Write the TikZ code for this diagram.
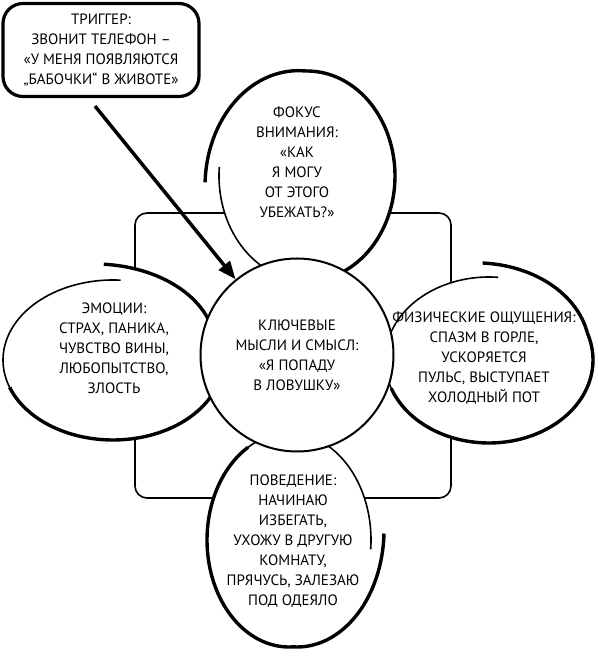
\documentclass[tikz,border=0pt]{standalone}
\usepackage{fontspec}
\setmainfont{PT Sans}
\usetikzlibrary{arrows.meta,
							calc,
							positioning,
							shapes.geometric}

% spiral bubble: cx, cy, rx, ry, start angle, growth span, end scale, thin span
\newcommand\spiral[8]{%
	\pgfmathsetmacro\spEnd{#5+368}%
	\pgfmathsetmacro\spGrow{#5+368-#6}%
	\pgfmathsetmacro\spThin{#5+#8}%
	\pgfmathsetmacro\spThinB{#5+#8+4}%
	\def\spX{#1+#3*(1+(#7-1)*max(0,\x-\spGrow)/#6)*cos(\x)}%
	\def\spY{#2+#4*(1+(#7-1)*max(0,\x-\spGrow)/#6)*sin(\x)}%
	\fill[white] plot[domain=#5:\spEnd, samples=150] ({\spX},{\spY}) -- cycle;
	\draw[line width=1.6pt] plot[domain=#5:\spThinB, samples=60] ({\spX},{\spY});
	\draw[line width=3.4pt] plot[domain=\spThin:\spEnd, samples=120] ({\spX},{\spY});
}

\begin{document}
\begin{tikzpicture}[x=1pt, y=1pt,
	bubbletext/.style = {align=center, inner sep=0pt,
									 font=\fontsize{15}{20}\selectfont},
		keybox/.style = {bubbletext, circle, draw, fill=white,
									 line width=2pt, minimum size=193pt},
	 trigbox/.style = {bubbletext, rectangle, draw, fill=white,
									 rounded corners=20pt, line width=3.2pt,
									 minimum width=196pt, minimum height=93pt},
 backframe/.style = {line width=1.6pt, rounded corners=12pt},
	 pointer/.style = {line width=3.5pt, -{Triangle[length=18pt, width=14pt]}}]

\useasboundingbox (0,0) rectangle (597,658);

\draw [backframe] (135,160) rectangle (451,445);

\spiral{307}{482}{88}{105}{175}{92}{1.16}{85}     % <-- focus
\spiral{113}{298}{110}{80}{86}{65}{1.2}{114}      % <-- emotions
\spiral{489}{298}{104}{83}{85}{74}{1.17}{115}     % <-- body
\spiral{289}{118}{82}{107}{-5}{90}{1.16}{125}     % <-- behaviour

\node (key) [keybox] at (297,303)
		{КЛЮЧЕВЫЕ\\ МЫСЛИ И СМЫСЛ:\\ «Я ПОПАДУ\\ В ЛОВУШКУ»};

\node (focus) [bubbletext] at (297,496)
		{ФОКУС\\ ВНИМАНИЯ:\\ «КАК\\ Я МОГУ\\ ОТ ЭТОГО\\ УБЕЖАТЬ?»};
\node (emotions) [bubbletext] at (114,310)
		{ЭМОЦИИ:\\ СТРАХ, ПАНИКА,\\ ЧУВСТВО ВИНЫ,\\ ЛЮБОПЫТСТВО,\\ ЗЛОСТЬ};
\node (body) [bubbletext] at (484,300)
		{ФИЗИЧЕСКИЕ ОЩУЩЕНИЯ:\\ СПАЗМ В ГОРЛЕ,\\ УСКОРЯЕТСЯ\\ ПУЛЬС, ВЫСТУПАЕТ\\ ХОЛОДНЫЙ ПОТ};
\node (behaviour) [bubbletext] at (293,117)
		{ПОВЕДЕНИЕ:\\ НАЧИНАЮ\\ ИЗБЕГАТЬ,\\ УХОЖУ В ДРУГУЮ\\ КОМНАТУ,\\ ПРЯЧУСЬ, ЗАЛЕЗАЮ\\ ПОД ОДЕЯЛО};

\node (trigger) [trigbox] at (101,608)
		{ТРИГГЕР:\\ ЗВОНИТ ТЕЛЕФОН –\\ «У МЕНЯ ПОЯВЛЯЮТСЯ\\ „БАБОЧКИ“ В ЖИВОТЕ»};

%%
\coordinate (tail) at ($(trigger.south)+(-6,-8)$);
\draw [pointer] (tail) -- (key);
\end{tikzpicture}
\end{document}
